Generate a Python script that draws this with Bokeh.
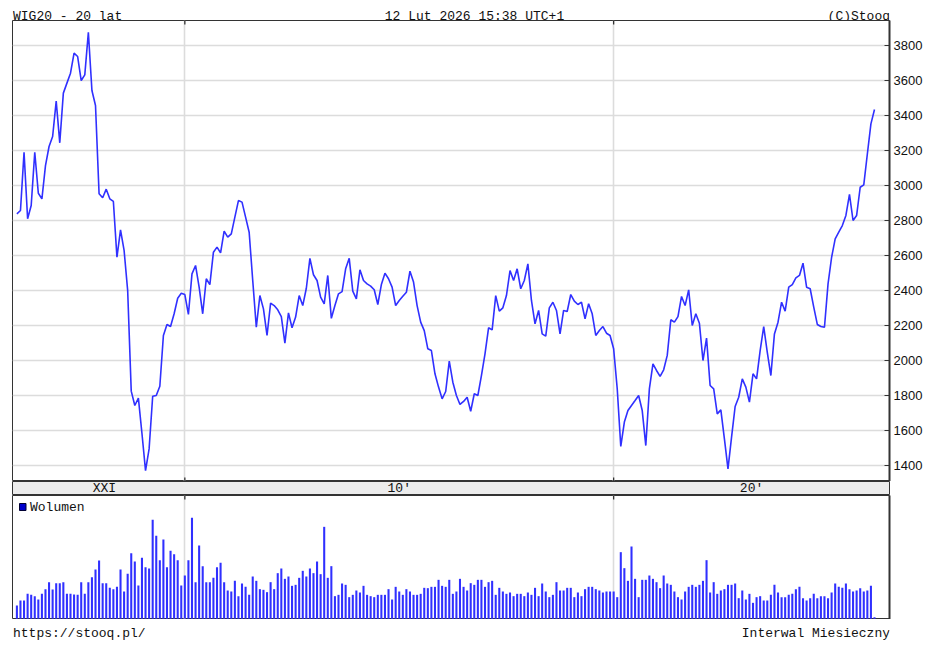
import pandas as pd
from bokeh.plotting import figure
from bokeh.layouts import column
from bokeh.models import Range1d, FixedTicker
from bokeh.core.properties import value
from bokeh.embed import file_html
from bokeh.resources import INLINE

# ---------------- data ----------------
months = pd.date_range("2006-02-01", periods=241, freq="MS")

price = [
    2838, 2857, 3190, 2810, 2886, 3190, 2956, 2924, 3114, 3223,
    3280, 3482, 3244, 3528, 3585, 3642, 3756, 3737, 3600, 3632,
    3876, 3543, 3457, 2953, 2930, 2979, 2924, 2909, 2590, 2747,
    2629, 2400, 1825, 1743, 1785, 1583, 1371, 1495, 1796, 1800,
    1853, 2143, 2206, 2194, 2267, 2356, 2384, 2377, 2263, 2495,
    2543, 2419, 2267, 2467, 2434, 2619, 2648, 2615, 2739, 2705,
    2724, 2819, 2914, 2905, 2819, 2733, 2457, 2190, 2371, 2295,
    2143, 2328, 2314, 2290, 2251, 2099, 2272, 2187, 2248, 2371,
    2314, 2413, 2584, 2490, 2457, 2362, 2324, 2486, 2241, 2314,
    2381, 2394, 2524, 2584, 2396, 2352, 2518, 2457, 2438, 2425,
    2404, 2320, 2434, 2499, 2467, 2419, 2314, 2343, 2367, 2390,
    2510, 2448, 2314, 2219, 2171, 2067, 2057, 1924, 1848, 1781,
    1823, 1996, 1876, 1800, 1749, 1766, 1790, 1710, 1810, 1800,
    1914, 2038, 2187, 2175, 2371, 2282, 2301, 2371, 2514, 2457,
    2524, 2410, 2457, 2552, 2343, 2210, 2286, 2152, 2139, 2301,
    2333, 2286, 2152, 2286, 2280, 2377, 2339, 2320, 2333, 2238,
    2324, 2267, 2143, 2171, 2194, 2156, 2143, 2067, 1840, 1509,
    1648, 1714, 1743, 1771, 1800, 1714, 1514, 1838, 1981, 1943,
    1909, 1947, 2029, 2233, 2219, 2251, 2366, 2314, 2404, 2200,
    2267, 2213, 2000, 2128, 1857, 1838, 1695, 1718, 1552, 1381,
    1562, 1737, 1790, 1895, 1848, 1762, 1924, 1895, 2057, 2194,
    2047, 1914, 2152, 2219, 2333, 2282, 2419, 2434, 2472, 2486,
    2556, 2419, 2410, 2305, 2206, 2194, 2190, 2438, 2590, 2695,
    2733, 2771, 2829, 2949, 2800, 2829, 2990, 3004, 3180, 3352,
    3434,
]

volume = [
    40, 55, 55, 75, 72, 68, 58, 75, 89, 110,
    88, 107, 107, 110, 75, 75, 73, 72, 110, 75,
    110, 125, 148, 175, 107, 107, 93, 89, 96, 148,
    82, 135, 197, 172, 100, 183, 155, 151, 297, 249,
    176, 238, 155, 204, 194, 176, 100, 130, 176, 303,
    110, 220, 158, 110, 110, 123, 155, 168, 110, 85,
    82, 114, 68, 106, 96, 72, 127, 114, 89, 87,
    80, 110, 89, 137, 151, 120, 127, 99, 102, 123,
    144, 127, 151, 137, 172, 134, 276, 123, 158, 68,
    72, 106, 102, 65, 72, 85, 79, 99, 72, 68,
    65, 72, 72, 72, 89, 58, 96, 82, 72, 89,
    82, 72, 72, 75, 93, 92, 96, 96, 117, 99,
    96, 117, 75, 82, 120, 96, 85, 107, 102, 117,
    117, 96, 110, 114, 72, 93, 82, 75, 79, 68,
    75, 75, 68, 79, 72, 93, 68, 106, 82, 65,
    72, 110, 85, 85, 93, 93, 65, 79, 68, 89,
    96, 96, 89, 85, 79, 82, 82, 82, 65, 200,
    152, 114, 217, 120, 65, 117, 117, 130, 120, 110,
    92, 130, 106, 102, 82, 65, 58, 82, 96, 102,
    96, 102, 114, 176, 79, 110, 75, 85, 89, 102,
    102, 106, 62, 85, 58, 75, 48, 65, 68, 55,
    55, 72, 102, 79, 65, 65, 72, 75, 89, 96,
    62, 55, 62, 75, 62, 68, 68, 62, 79, 106,
    96, 93, 106, 89, 82, 85, 92, 82, 85, 99,
    5,
]

y_ticks = [1400, 1600, 1800, 2000, 2200, 2400, 2600, 2800, 3000, 3200, 3400, 3600, 3800]
band_labels = ["XXI", "10'", "20'"]
title_left = "WIG20 - 20 lat"
title_center = "12 Lut 2026 15:38 UTC+1"
title_right = "(C)Stooq"
footer_left = "https://stooq.pl/"
footer_right = "Interwal Miesieczny"
legend_label = "Wolumen"

# ---------------- styling ----------------
MONO = value("Liberation Mono")
TXT = "#111111"
FRAME = "#333333"
GRID = "#dcdcdc"
BLUE = "#3030ff"
FW = 877
LB, RB = 12, 48

idx = list(range(len(months)))
decades = [months.get_loc(pd.Timestamp("2010-01-01")), months.get_loc(pd.Timestamp("2020-01-01"))]
xr = Range1d(-1.23, 244.2)


def base(fh, yr, **kw):
    p = figure(frame_width=FW, frame_height=fh, x_range=xr, y_range=yr,
               output_backend="svg", toolbar_location=None,
               x_axis_location=None, min_border_left=LB, min_border_right=RB,
               min_border_top=0, min_border_bottom=0, **kw)
    p.outline_line_color = FRAME
    p.outline_line_width = 1
    p.background_fill_color = "white"
    p.border_fill_color = "white"
    return p


def side_axis(p, ticks, labels=True):
    ax = p.yaxis[0]
    ax.ticker = FixedTicker(ticks=ticks)
    ax.axis_line_color = FRAME
    ax.axis_line_width = 2
    ax.major_tick_in = 5
    ax.major_tick_out = 0
    ax.major_tick_line_color = FRAME
    ax.minor_tick_line_color = None
    ax.major_label_standoff = 4
    ax.major_label_text_font = "Liberation Sans"
    ax.major_label_text_font_size = "13px" if labels else "0px"
    ax.major_label_text_color = TXT


def strip(h):
    # same borders as the panels; x/y are screen pixels measured from the frame's left / bottom
    p = figure(frame_width=FW, frame_height=h, x_range=Range1d(0, FW), y_range=Range1d(0, h),
               output_backend="svg", toolbar_location=None, x_axis_location=None,
               y_axis_location=None, min_border_left=LB, min_border_right=RB,
               min_border_top=0, min_border_bottom=0)
    p.outline_line_color = None
    p.grid.visible = False
    return p


txt_kw = dict(text_font=MONO, text_font_size="13px", text_color=TXT, text_baseline="alphabetic")

# header
ph = strip(20)
ph.text(x=[0.5], y=[4.5], text=[title_left], text_align="left", **txt_kw)
ph.text(x=[462], y=[4.5], text=[title_center], text_align="center", **txt_kw)
ph.text(x=[877.5], y=[4.5], text=[title_right], text_align="right", **txt_kw)

# main price panel
yr_p = Range1d(1308.6, 3942.9)
pa = base(461, yr_p, y_axis_location="right")
side_axis(pa, y_ticks)
pa.ygrid.ticker = FixedTicker(ticks=y_ticks)
pa.ygrid.grid_line_color = GRID
pa.ygrid.grid_line_width = 1.6
pa.xgrid.ticker = FixedTicker(ticks=decades)
pa.xgrid.grid_line_color = GRID
pa.xgrid.grid_line_width = 1.6
tl = 4 / 461 * (yr_p.end - yr_p.start)
pa.segment(x0=decades, x1=decades, y0=[yr_p.end] * 2, y1=[yr_p.end - tl] * 2, line_color=FRAME, line_width=1.3)
pa.segment(x0=decades, x1=decades, y0=[yr_p.start] * 2, y1=[yr_p.start + tl] * 2, line_color=FRAME, line_width=1.3)
pa.line(x=idx, y=price, line_color=BLUE, line_width=1.6)

# label band
pb = base(14, Range1d(0, 14), y_axis_location=None)
pb.background_fill_color = "#ececec"
pb.grid.visible = False
band_x = [(idx[0] + decades[0]) / 2 + 1, (decades[0] + decades[1]) / 2, (decades[1] + xr.end) / 2]
pb.text(x=band_x, y=[7] * 3, text=band_labels, text_align="center", text_baseline="middle",
        text_font=MONO, text_font_size="13px", text_color=TXT)

# volume panel
yr_v = Range1d(-2, 370)
VH = 124
pv = base(VH, yr_v, y_axis_location="right")
side_axis(pv, [], labels=False)
pv.ygrid.visible = False
pv.xgrid.ticker = FixedTicker(ticks=decades)
pv.xgrid.grid_line_color = GRID
pv.xgrid.grid_line_width = 1.6
tv = 4 / VH * (yr_v.end - yr_v.start)
pv.segment(x0=decades, x1=decades, y0=[yr_v.end] * 2, y1=[yr_v.end - tv] * 2, line_color=FRAME, line_width=1.3)
pv.vbar(x=idx, top=volume, bottom=0, width=0.58, fill_color=BLUE, line_color=None)

# legend key inside the volume frame (offsets in screen pixels from the frame's top-left)
sx = (xr.end - xr.start) / FW
sy = (yr_v.end - yr_v.start) / VH
pv.quad(left=[xr.start + 7 * sx], right=[xr.start + 13.5 * sx],
        top=[yr_v.end - 8 * sy], bottom=[yr_v.end - 15 * sy],
        fill_color="#0000cc", line_color="#000033", line_width=1)
pv.text(x=[xr.start + 17.5 * sx], y=[yr_v.end - 12 * sy], text=[legend_label], text_align="left",
        text_baseline="middle", text_font=MONO, text_font_size="13px", text_color=TXT)

# footer
pf = strip(26)
pf.text(x=[0.5], y=[12], text=[footer_left], text_align="left", **txt_kw)
pf.text(x=[877.5], y=[12], text=[footer_right], text_align="right", **txt_kw)

layout = column(ph, pa, pb, pv, pf, spacing=0)
open("out.html", "w").write(file_html(layout, INLINE))
